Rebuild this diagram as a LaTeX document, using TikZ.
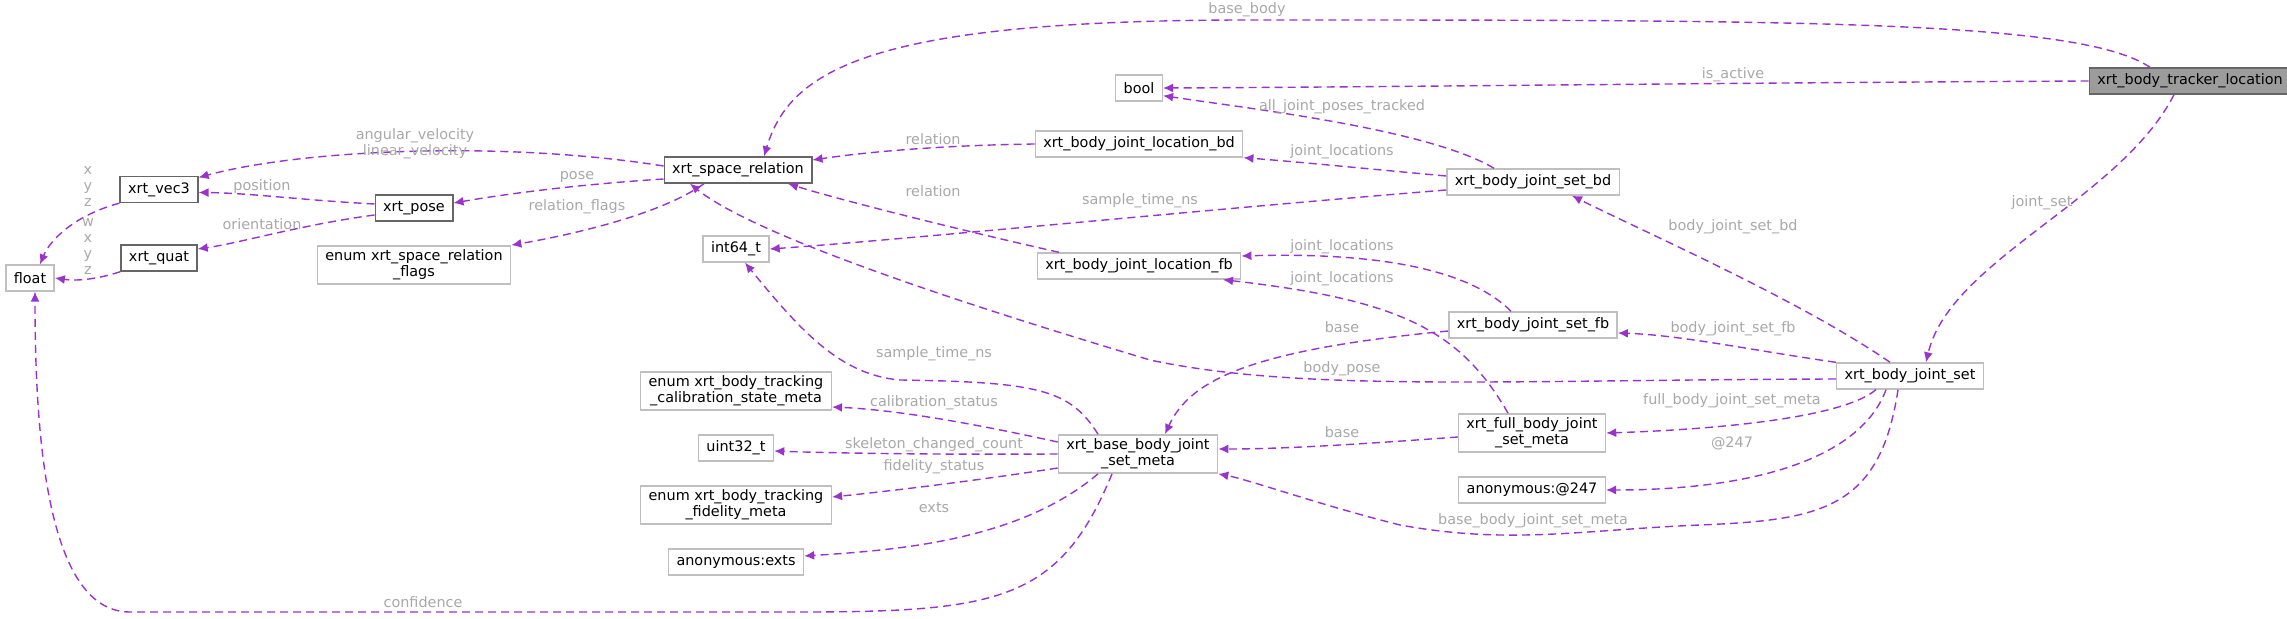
\documentclass[tikz,border=0pt]{standalone}
\usepackage{fontspec}
\setmainfont{DejaVu Sans}
\usetikzlibrary{arrows.meta}
\definecolor{edgecol}{HTML}{9A32CD}
\definecolor{lblcol}{HTML}{A8A8A8}
\definecolor{boxcol}{HTML}{BFBFBF}
\definecolor{darkbox}{HTML}{666666}
\tikzset{
  box/.style={draw=boxcol, line width=0.7pt, fill=white, rectangle, align=center, inner xsep=4pt, inner ysep=2pt, minimum height=13pt, font=\fontsize{7.2}{8}\selectfont},
  known/.style={box, draw=darkbox},
  main/.style={box, draw=darkbox, fill=darkbox!65},
  rel/.style={draw=edgecol, line width=0.7pt, dashed, dash pattern=on 4pt off 2.5pt, -{Latex[length=5pt,width=4.5pt]}},
  lbl/.style={text=lblcol, align=center, inner sep=0pt, font=\fontsize{7.2}{8}\selectfont}
}

\begin{document}
\begin{tikzpicture}[x=0.5pt, y=-0.5pt]
  \useasboundingbox (0,0) rectangle (2287,619);
  % nodes
  \node[main] (tracker) at (2190,81) {xrt\_body\_tracker\_location};
  \node[box] (bool) at (1139,88) {bool};
  \node[known] (sr) at (738,170) {xrt\_space\_relation};
  \node[known] (vec3) at (159,189.5) {xrt\_vec3};
  \node[known] (pose) at (414,208) {xrt\_pose};
  \node[known] (quat) at (159,258) {xrt\_quat};
  \node[box] (float) at (30,278) {float};
  \node[box] (flags) at (414,265) {enum xrt\_space\_relation\\\_flags};
  \node[box] (int64) at (736,249) {int64\_t};
  \node[box] (lbd) at (1139,144) {xrt\_body\_joint\_location\_bd};
  \node[box] (lfb) at (1139,266) {xrt\_body\_joint\_location\_fb};
  \node[box] (sbd) at (1533,182) {xrt\_body\_joint\_set\_bd};
  \node[box] (sfb) at (1533,325) {xrt\_body\_joint\_set\_fb};
  \node[box] (bjs) at (1910,376) {xrt\_body\_joint\_set};
  \node[box] (fm) at (1532,433) {xrt\_full\_body\_joint\\\_set\_meta};
  \node[box] (am) at (1532,490) {anonymous:@247};
  \node[box] (bm) at (1138,454) {xrt\_base\_body\_joint\\\_set\_meta};
  \node[box] (cal) at (736,391) {enum xrt\_body\_tracking\\\_calibration\_state\_meta};
  \node[box] (u32) at (736,448) {uint32\_t};
  \node[box] (fid) at (736,505) {enum xrt\_body\_tracking\\\_fidelity\_meta};
  \node[box] (anx) at (736,562) {anonymous:exts};
  % connectors
  \draw[rel] ([xshift=-20pt]tracker.north) .. controls (2080,20) and (1800,20) .. (1250,20) .. controls (870,20) and (790,70) .. ([xshift=13pt]sr.north);
  \draw[rel] (tracker.west) .. controls (1700,83) and (1400,87) .. (bool.east);
  \draw[rel] ([xshift=-8pt]tracker.south) .. controls (2120,200) and (1950,260) .. ([xshift=8pt]bjs.north);
  \draw[rel] ([yshift=2pt]sr.west) .. controls (500,140) and (300,150) .. ([yshift=6pt]vec3.east);
  \draw[rel] ([yshift=-4.5pt]sr.west) .. controls (570,185) and (500,195) .. ([yshift=2.5pt]pose.east);
  \draw[rel] ([xshift=-17pt]sr.south) .. controls (660,215) and (570,235) .. (flags.north east);
  \draw[rel] ([yshift=2pt]pose.west) .. controls (300,200) and (250,193) .. ([yshift=-1.5pt]vec3.east);
  \draw[rel] ([yshift=-3.5pt]pose.west) .. controls (300,225) and (240,243) .. ([yshift=4.5pt]quat.east);
  \draw[rel] (vec3.south west) .. controls (75,215) and (50,240) .. ([xshift=5pt]float.north);
  \draw[rel] (quat.south west) .. controls (95,280) and (75,281) .. (float.east);
  \draw[rel] (lbd.west) .. controls (960,145) and (880,150) .. ([yshift=5pt]sr.east);
  \draw[rel] ([xshift=-40pt]lfb.north) .. controls (960,230) and (840,200) .. ([xshift=25pt]sr.south);
  \draw[rel] ([xshift=-19.5pt]sbd.north) .. controls (1430,130) and (1260,110) .. ([yshift=3pt]bool.south east);
  \draw[rel] ([yshift=3pt]sbd.west) .. controls (1380,170) and (1300,162) .. (lbd.south east);
  \draw[rel] ([yshift=-4pt]sbd.west) .. controls (1200,210) and (900,240) .. (int64.east);
  \draw[rel] ([xshift=-11pt]sfb.north) .. controls (1470,270) and (1380,252) .. ([yshift=5pt]lfb.east);
  \draw[rel] ([xshift=-12pt]fm.north) .. controls (1460,330) and (1400,300) .. ([xshift=42pt]lfb.south);
  \draw[rel] ([yshift=-3pt]sfb.west) .. controls (1250,350) and (1190,380) .. ([xshift=13.5pt]bm.north);
  \draw[rel] ([xshift=-10pt]bjs.north) .. controls (1800,300) and (1640,230) .. ([xshift=19.5pt]sbd.south);
  \draw[rel] (bjs.north west) .. controls (1750,350) and (1680,335) .. ([yshift=-4pt]sfb.east);
  \draw[rel] ([yshift=-1.5pt]bjs.west) .. controls (1500,380) and (1300,392) .. (1150,360) .. controls (1000,315) and (760,240) .. ([xshift=-24pt]sr.south);
  \draw[rel] ([xshift=-17pt]bjs.south) .. controls (1840,420) and (1700,430) .. (fm.east);
  \draw[rel] ([xshift=-12pt]bjs.south) .. controls (1860,460) and (1750,490) .. (am.east);
  \draw[rel] ([xshift=-6pt]bjs.south) .. controls (1880,510) and (1820,520) .. (1700,525) .. controls (1580,530) and (1510,545) .. (1400,525) .. controls (1320,505) and (1250,480) .. (bm.south east);
  \draw[rel] ([yshift=-2pt]fm.west) .. controls (1350,445) and (1280,449) .. ([yshift=2.5pt]bm.east);
  \draw[rel] ([xshift=-20pt]bm.north) .. controls (1070,390) and (1040,382) .. (900,380) .. controls (840,375) and (800,330) .. ([xshift=4.5pt]int64.south);
  \draw[rel] ([yshift=6pt]bm.west) .. controls (980,425) and (900,410) .. ([yshift=-8pt]cal.east);
  \draw[rel] (bm.west) .. controls (900,455) and (800,452) .. ([yshift=-1.5pt]u32.east);
  \draw[rel] ([yshift=-7pt]bm.west) .. controls (980,480) and (900,490) .. ([yshift=4pt]fid.east);
  \draw[rel] ([xshift=-20pt]bm.south) .. controls (1020,540) and (900,550) .. ([yshift=3pt]anx.east);
  \draw[rel] ([xshift=-13pt]bm.south) .. controls (1060,600) and (1000,612) .. (800,612) -- (130,612) .. controls (50,612) and (35,450) .. ([xshift=2.5pt]float.south);
  % labels
  \node[lbl] (l-base-body) at (1247,10) {base\_body};
  \node[lbl] (l-is-active) at (1733,75) {is\_active};
  \node[lbl] (l-joint-set) at (2042,203) {joint\_set};
  \node[lbl] (l-vel) at (415,144) {angular\_velocity\\linear\_velocity};
  \node[lbl] (l-pose) at (577,177) {pose};
  \node[lbl] (l-flags) at (577,207) {relation\_flags};
  \node[lbl] (l-position) at (262,187) {position};
  \node[lbl] (l-orient) at (262,224) {orientation};
  \node[lbl] (l-xyz) at (88,187) {x\\y\\z};
  \node[lbl] (l-wxyz) at (88,247) {w\\x\\y\\z};
  \node[lbl] (l-rel-bd) at (933,139) {relation};
  \node[lbl] (l-rel-fb) at (933,191) {relation};
  \node[lbl] (l-tracked) at (1342,107) {all\_joint\_poses\_tracked};
  \node[lbl] (l-jl-bd) at (1342,152) {joint\_locations};
  \node[lbl] (l-stn-bd) at (1140,201) {sample\_time\_ns};
  \node[lbl] (l-jl-fb) at (1342,247) {joint\_locations};
  \node[lbl] (l-jl-full) at (1342,279) {joint\_locations};
  \node[lbl] (l-base-fb) at (1342,327) {base};
  \node[lbl] (l-set-bd) at (1733,227) {body\_joint\_set\_bd};
  \node[lbl] (l-set-fb) at (1733,329) {body\_joint\_set\_fb};
  \node[lbl] (l-body-pose) at (1342,369) {body\_pose};
  \node[lbl] (l-full) at (1732,401) {full\_body\_joint\_set\_meta};
  \node[lbl] (l-247) at (1732,443) {@247};
  \node[lbl] (l-base-meta) at (1533,521) {base\_body\_joint\_set\_meta};
  \node[lbl] (l-base-full) at (1342,432) {base};
  \node[lbl] (l-stn) at (934,354) {sample\_time\_ns};
  \node[lbl] (l-cal) at (934,403) {calibration\_status};
  \node[lbl] (l-skel) at (934,445) {skeleton\_changed\_count};
  \node[lbl] (l-fid) at (934,467) {fidelity\_status};
  \node[lbl] (l-exts) at (934,508) {exts};
  \node[lbl] (l-conf) at (423,602) {confidence};
\end{tikzpicture}
\end{document}
